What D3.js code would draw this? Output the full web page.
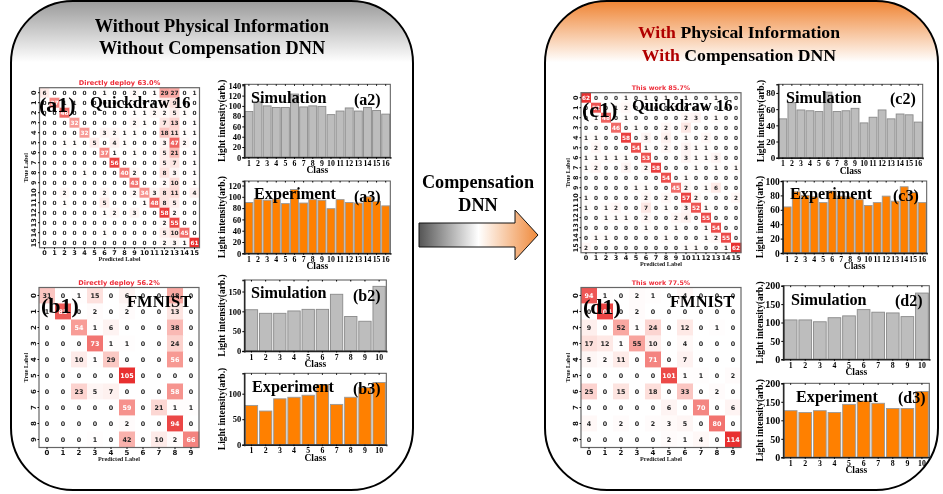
<!DOCTYPE html>
<html><head><meta charset="utf-8">
<script src="https://cdnjs.cloudflare.com/ajax/libs/d3/7.8.5/d3.min.js"></script>
<style>
html,body{margin:0;padding:0;background:#fff;overflow:hidden}
svg{display:block;filter:blur(.35px)}
</style></head><body><svg id="c" width="943" height="494"></svg>
<script>
// ---------- data ----------
const mA1=[
[6,0,0,0,0,0,1,0,0,2,0,1,29,27,0,1],
[0,37,1,1,0,0,0,0,0,1,0,0,5,9,0,0],
[0,0,46,0,0,0,0,0,0,1,1,2,2,5,1,0],
[0,0,0,32,0,0,0,0,0,2,1,0,7,13,0,1],
[0,0,0,0,32,0,3,2,1,1,0,0,18,11,1,1],
[0,0,1,1,0,5,0,4,1,0,0,0,3,47,2,0],
[0,0,0,0,0,0,37,1,0,1,0,0,5,21,0,1],
[0,0,0,0,0,0,0,56,0,0,0,0,5,7,0,1],
[0,0,0,0,1,0,0,0,40,2,0,0,8,3,0,1],
[0,0,0,0,0,0,0,0,0,43,0,0,2,10,0,1],
[0,0,2,0,0,0,2,0,0,2,34,3,8,11,0,4],
[0,0,1,0,0,0,5,0,0,0,1,48,8,5,0,0],
[0,0,0,0,0,0,1,2,0,3,0,0,58,2,0,0],
[0,0,0,0,0,0,0,0,0,0,0,0,2,55,0,0],
[0,0,0,0,0,0,1,0,0,0,0,0,5,10,45,0],
[0,0,0,0,0,0,0,0,0,0,0,0,2,3,1,61]];
const mB1=[
[31,0,1,15,0,6,0,0,48,0],
[1,85,0,2,0,2,0,0,13,0],
[0,0,54,1,6,0,0,0,38,0],
[0,0,0,73,1,1,0,0,24,0],
[0,0,10,1,29,0,0,0,56,0],
[0,0,0,0,0,105,0,0,0,0],
[0,0,23,5,7,0,0,0,58,0],
[0,0,0,0,0,59,0,21,1,1],
[0,0,0,0,0,2,0,0,94,0],
[0,0,0,1,0,42,0,10,2,66]];
const mC1=[
[62,0,0,0,1,0,1,0,1,0,1,0,0,1,0,0],
[0,52,0,1,2,0,0,0,0,1,0,0,0,0,0,0],
[0,1,48,0,1,0,0,0,0,0,2,3,0,1,0,0],
[0,0,0,46,0,1,0,0,2,0,7,0,0,0,0,0],
[1,1,0,0,58,0,3,0,4,0,1,0,2,0,0,0],
[0,2,0,0,0,54,1,0,2,0,3,1,1,0,0,0],
[1,1,1,1,1,0,53,0,0,0,3,1,1,3,0,0],
[1,2,0,0,3,0,2,58,0,0,0,1,0,1,0,1],
[0,0,0,0,0,0,0,0,54,0,1,0,0,0,0,0],
[0,0,0,0,0,1,1,0,0,45,2,0,1,6,0,0],
[1,0,0,0,0,0,2,0,2,0,57,2,0,0,0,2],
[1,0,1,2,0,0,7,0,1,0,3,52,1,0,0,0],
[0,0,1,1,1,0,2,0,0,2,4,0,55,0,0,0],
[0,0,0,0,0,0,1,0,0,1,0,0,1,54,0,0],
[0,1,1,0,0,0,0,0,1,0,0,0,1,2,55,0],
[2,0,0,0,0,0,0,0,0,0,1,1,0,0,1,62]];
const mD1=[
[94,1,0,2,1,0,4,0,0,0],
[0,104,0,2,0,0,0,0,0,0],
[9,0,52,1,24,0,12,0,1,0],
[17,12,1,55,10,0,4,0,0,0],
[5,2,11,0,71,0,7,0,0,0],
[0,0,0,0,0,101,1,1,0,2],
[25,0,15,0,18,0,33,0,2,0],
[0,0,0,0,0,6,0,70,0,6],
[4,0,2,0,2,3,5,0,80,0],
[0,0,0,0,0,2,1,4,0,114]];
const a2=[89,108,100,97,97,123,98,100,99,83,90,96,90,97,91,84];
const a3=[90,96,94,96,88,113,89,95,94,79,95,90,89,100,92,84];
const b2=[104,95,95,101,105,105,143,87,75,163];
const b3=[77,66,90,93,97,118,79,93,112,122];
const c2=[48,68,59,58,57,81,57,58,61,43,50,59,48,54,53,44];
const c3=[64,85,80,78,70,86,79,78,74,66,70,79,72,92,84,70];
const d2=[107,107,102,113,118,135,128,126,116,180];
const d3v=[126,121,126,121,143,152,146,132,132,178];
const titleA="Directly deploy 63.0%", titleB="Directly deploy 56.2%", titleC="This work 85.7%", titleD="This work 77.5%";

// ---------- helpers ----------
const SERIF="'Liberation Serif',serif", SANS="'DejaVu Sans',sans-serif";
const svg=d3.select("#c"), defs=svg.append("defs");
function lg(id,x2,y2,stops){
  const g=defs.append("linearGradient").attr("id",id).attr("x1",0).attr("y1",0).attr("x2",x2).attr("y2",y2);
  stops.forEach(s=>g.append("stop").attr("offset",s[0]).attr("stop-color",s[1]));
}
lg("gL",0,1,[[0,"#9a9a9a"],[.125,"#ffffff"],[1,"#ffffff"]]);
lg("gR",0,1,[[0,"#ef8433"],[.125,"#ffffff"],[1,"#ffffff"]]);
lg("gA",1,0,[[0,"#555"],[.5,"#fff"],[1,"#ef8a3c"]]);

function txt(x,y,s,size,o={}){
  return svg.append("text").attr("x",x).attr("y",y).text(s)
   .attr("font-family",o.font||SERIF).attr("font-weight","bold").attr("font-size",size)
   .attr("fill",o.fill||"#000").attr("text-anchor",o.anchor||"start");
}
svg.append("rect").attr("x",11).attr("y",1).attr("width",402).attr("height",489).attr("rx",62).attr("ry",62)
  .attr("fill","url(#gL)").attr("stroke","#000").attr("stroke-width",2);
svg.append("rect").attr("x",545).attr("y",1).attr("width",393).attr("height",489).attr("rx",62).attr("ry",62)
  .attr("fill","url(#gR)").attr("stroke","#000").attr("stroke-width",2);

// arrow
const arrow=d3.path();
[[419,223],[515,223],[515,210],[538,235],[515,260],[515,247],[419,247]].forEach((p,i)=>i?arrow.lineTo(p[0],p[1]):arrow.moveTo(p[0],p[1]));
arrow.closePath();
svg.append("path").attr("d",arrow.toString()).attr("fill","url(#gA)").attr("stroke","#111").attr("stroke-width",1);

// heading text
function heading(x,y,size,first,rest){
  const t=txt(x,y,"",size,{anchor:"middle"});
  if(first) t.append("tspan").attr("fill","#b00000").text(first);
  t.append("tspan").text(rest);
}
heading(212,32,18.3,"","Without Physical Information");
heading(212,54,18.3,"","Without Compensation DNN");
heading(739,38,17.7,"With"," Physical Information");
heading(739,61,17.7,"With"," Compensation DNN");
txt(478,188,"Compensation",18.2,{anchor:"middle"});
txt(478,211,"DNN",18.2,{anchor:"middle"});

const heat=d3.scaleLinear().domain([0,.15,.5,1]).range(["#ffffff","#fde0dc","#f8a09a","#e83030"]);

function matrix(m,x0,y0,title,name,labelXY,nameXY,dsName,opts){
  const n=m.length, size=160;
  const g=svg.append("g").attr("transform",`translate(${x0},${y0})`);
  const idx=d3.range(n);
  const x=d3.scaleBand().domain(idx).range([0,size]);
  const y=d3.scaleBand().domain(idx).range([0,size]);
  const vmax=d3.max(m.flat());
  const cells=m.flatMap((r,i)=>r.map((v,j)=>({i,j,v})));
  g.selectAll("rect.c").data(cells).join("rect").attr("class","c")
    .attr("x",d=>x(d.j)).attr("y",d=>y(d.i)).attr("width",x.bandwidth()+.3).attr("height",y.bandwidth()+.3)
    .attr("fill",d=>heat(d.v/vmax));
  g.selectAll("text.c").data(cells).join("text").attr("class","c")
    .attr("x",d=>x(d.j)+x.bandwidth()/2).attr("y",d=>y(d.i)+y.bandwidth()/2+ (n==16?2.2:2.4))
    .attr("text-anchor","middle").attr("font-family",SANS).attr("font-weight","bold")
    .attr("font-size",n==16?5.8:6.4)
    .attr("fill",d=>d.v/vmax>.5?"#fff":"#262626").text(d=>d.v);
  g.append("rect").attr("width",size).attr("height",size).attr("fill","none").attr("stroke","#666").attr("stroke-width",1.2);
  const ax=g.append("g").attr("transform",`translate(0,${size})`).call(d3.axisBottom(x).tickSize(1.5).tickPadding(1.5));
  const ay=g.append("g").call(d3.axisLeft(y).tickSize(1.5));
  [ax,ay].forEach(a=>{a.select(".domain").remove();a.selectAll("text").attr("font-family",SANS).attr("font-weight","bold").attr("font-size",n==16?6.5:7).attr("fill","#111");});
  ay.selectAll("text").attr("x",0).attr("y",0).attr("dy",0).attr("text-anchor","middle")
    .attr("transform","translate(-3.5,0) rotate(-90)");
  g.append("text").attr("x",size/2).attr("y",-2.8).attr("text-anchor","middle").attr("font-family",SANS).attr("font-weight","bold").attr("font-size",opts.ts).attr("fill","#ee2d3a").text(title);
  g.append("text").attr("x",size/2).attr("y",size+13.5).attr("text-anchor","middle").attr("font-family",SERIF).attr("font-weight","bold").attr("font-size",6.2).attr("fill","#222").text("Predicted Label");
  g.append("text").attr("transform",`translate(-11.5,${size/2}) rotate(-90)`).attr("text-anchor","middle").attr("font-family",SERIF).attr("font-weight","bold").attr("font-size",6.2).attr("fill","#222").text("True Label");
  txt(labelXY[0],labelXY[1],name,22);
  txt(nameXY[0],nameXY[1],dsName,16.5);
}
matrix(mA1,39.5,87.7,titleA,"(a1)",[39,112],[90,108],"Quickdraw 16",{ts:6.6});
matrix(mB1,39,287.5,titleB,"(b1)",[41,313],[127,307],"FMNIST",{ts:6.6});
matrix(mC1,581,92.7,titleC,"(c1)",[582,117],[632,111],"Quickdraw 16",{ts:6.3});
matrix(mD1,581,287.5,titleD,"(d1)",[583,314],[670,307],"FMNIST",{ts:6.3});

function bars(vals,b,ymax,ticks,fill,stroke,word,wordXY,tag,tagXY){
  const w=b.x1-b.x0,h=b.y1-b.y0;
  const g=svg.append("g").attr("transform",`translate(${b.x0},${b.y0})`);
  const cats=vals.map((_,i)=>i+1);
  const x=d3.scaleBand().domain(cats).range([0,w]).paddingInner(.13).paddingOuter(.07);
  const y=d3.scaleLinear().domain([0,ymax]).range([h,0]);
  g.selectAll("rect.b").data(vals).join("rect").attr("class","b")
    .attr("x",(d,i)=>x(cats[i])).attr("y",d=>Math.max(y(d),0)).attr("width",x.bandwidth()).attr("height",d=>h-Math.max(y(d),0))
    .attr("fill",fill).attr("stroke",stroke).attr("stroke-width",.9);
  g.append("rect").attr("width",w).attr("height",h).attr("fill","none").attr("stroke","#555").attr("stroke-width",1);
  const ax=g.append("g").attr("transform",`translate(0,${h})`).call(d3.axisBottom(x).tickSize(1.5).tickPadding(1.5));
  const ay=g.append("g").call(d3.axisLeft(y).tickValues(ticks).tickSize(2).tickPadding(1));
  const at=g.append("g").call(d3.axisTop(x).tickSize(-1.5).tickFormat(""));
  ay.select(".domain").attr("stroke","#222").attr("stroke-width",1.4);
  ax.select(".domain").attr("stroke","#222").attr("stroke-width",1.4);
  at.select(".domain").remove();
  ax.selectAll("text").attr("font-family",SERIF).attr("font-weight","bold").attr("font-size",7.8).attr("fill","#000");
  ay.selectAll("text").attr("font-family",SERIF).attr("font-weight","bold").attr("font-size",b.ys).attr("fill","#000");
  g.append("text").attr("x",w/2).attr("y",h+16).attr("text-anchor","middle").attr("font-family",SERIF).attr("font-weight","bold").attr("font-size",9.5).text("Class");
  g.append("text").attr("transform",`translate(${b.lx},${h/2}) rotate(-90)`).attr("text-anchor","middle").attr("font-family",SERIF).attr("font-weight","bold").attr("font-size",9.5).text("Light intensity(arb.)");
  txt(wordXY[0],wordXY[1],word,16.2);
  txt(tagXY[0],tagXY[1],tag,16);
}
const GF="#bdbdbd",GS="#8a8a8a",OF="#ff8000",OS="#999";
bars(a2,{x0:244.3,x1:390.3,y0:84.3,y1:157.3,lx:-19,ys:8.5},142,d3.range(0,141,20),GF,GS,"Simulation",[251,103],"(a2)",[354,105]);
bars(a3,{x0:244.3,x1:390.3,y0:181,y1:253.3,lx:-19,ys:8.5},128,d3.range(0,121,20),OF,OS,"Experiment",[254,199],"(a3)",[354,202]);
bars(b2,{x0:244.3,x1:386.3,y0:280,y1:351,lx:-19,ys:8.5},179,[0,50,100,150],GF,GS,"Simulation",[251,298],"(b2)",[353,301]);
bars(b3,{x0:244.3,x1:386.3,y0:373.3,y1:444.7,lx:-19,ys:8.5},140,[0,50,100],OF,OS,"Experiment",[252,392],"(b3)",[353,394]);
bars(c2,{x0:778.3,x1:922.7,y0:84.3,y1:157.7,lx:-14,ys:9},90.7,[0,20,40,60,80],GF,GS,"Simulation",[786,103],"(c2)",[890,104]);
bars(c3,{x0:782.7,x1:926.7,y0:181,y1:253,lx:-20,ys:9.5},100,d3.range(0,101,20),OF,OS,"Experiment",[790,199],"(c3)",[893,201]);
bars(d2,{x0:783.3,x1:929.3,y0:285.7,y1:359.3,lx:-20,ys:10},200,d3.range(0,201,50),GF,GS,"Simulation",[791,305],"(d2)",[895,306]);
bars(d3v,{x0:783.3,x1:929.3,y0:383.3,y1:457.3,lx:-20,ys:10},200,d3.range(0,201,50),OF,OS,"Experiment",[796,402],"(d3)",[898,403]);
</script></body></html>
